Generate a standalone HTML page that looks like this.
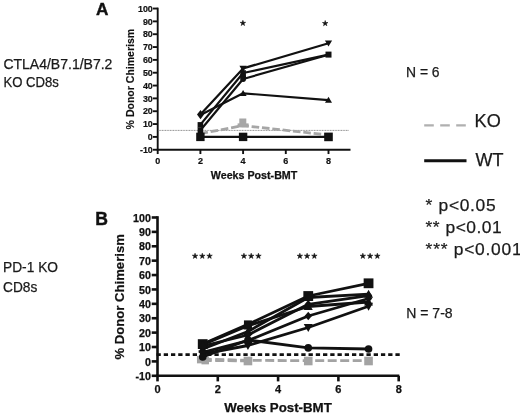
<!DOCTYPE html>
<html><head><meta charset="utf-8"><title>Donor chimerism</title>
<style>
html,body{margin:0;padding:0;background:#fff;width:520px;height:417px;overflow:hidden}
svg{display:block;filter:blur(0.35px)}
text{font-family:"Liberation Sans", sans-serif}
</style></head><body>
<svg width="520" height="417" viewBox="0 0 520 417">
<rect width="520" height="417" fill="#fff"/>
<text x="3.4" y="68.6" font-size="14.2" fill="#1a1a1a" stroke="#1a1a1a" stroke-width="0.25" textLength="109" lengthAdjust="spacingAndGlyphs">CTLA4/B7.1/B7.2</text>
<text x="3.4" y="87.2" font-size="14.2" fill="#1a1a1a" stroke="#1a1a1a" stroke-width="0.25" textLength="55.5" lengthAdjust="spacingAndGlyphs">KO CD8s</text>
<text x="3.0" y="272.2" font-size="14.2" fill="#1a1a1a" stroke="#1a1a1a" stroke-width="0.25" textLength="55" lengthAdjust="spacingAndGlyphs">PD-1 KO</text>
<text x="3.0" y="291.8" font-size="14.2" fill="#1a1a1a" stroke="#1a1a1a" stroke-width="0.25" textLength="34.3" lengthAdjust="spacingAndGlyphs">CD8s</text>
<text x="96.0" y="15.0" font-size="17.2" font-weight="bold" fill="#111" stroke="#111" stroke-width="0.4">A</text>
<text x="95.2" y="224.7" font-size="17.6" font-weight="bold" fill="#111" stroke="#111" stroke-width="0.4">B</text>
<line x1="157.7" y1="7.64" x2="157.7" y2="154.04" stroke="#111" stroke-width="1.9"/>
<line x1="156.8" y1="149.74" x2="350.5" y2="149.74" stroke="#111" stroke-width="1.9"/>
<line x1="152.9" y1="149.74" x2="157.7" y2="149.74" stroke="#111" stroke-width="1.9"/>
<text x="152.80" y="152.94" font-size="8.9" font-weight="bold" text-anchor="end" fill="#111" stroke="#111" stroke-width="0.2">-10</text>
<line x1="152.9" y1="136.90" x2="157.7" y2="136.90" stroke="#111" stroke-width="1.9"/>
<text x="152.80" y="140.10" font-size="8.9" font-weight="bold" text-anchor="end" fill="#111" stroke="#111" stroke-width="0.2">0</text>
<line x1="152.9" y1="124.06" x2="157.7" y2="124.06" stroke="#111" stroke-width="1.9"/>
<text x="152.80" y="127.26" font-size="8.9" font-weight="bold" text-anchor="end" fill="#111" stroke="#111" stroke-width="0.2">10</text>
<line x1="152.9" y1="111.23" x2="157.7" y2="111.23" stroke="#111" stroke-width="1.9"/>
<text x="152.80" y="114.43" font-size="8.9" font-weight="bold" text-anchor="end" fill="#111" stroke="#111" stroke-width="0.2">20</text>
<line x1="152.9" y1="98.39" x2="157.7" y2="98.39" stroke="#111" stroke-width="1.9"/>
<text x="152.80" y="101.59" font-size="8.9" font-weight="bold" text-anchor="end" fill="#111" stroke="#111" stroke-width="0.2">30</text>
<line x1="152.9" y1="85.56" x2="157.7" y2="85.56" stroke="#111" stroke-width="1.9"/>
<text x="152.80" y="88.76" font-size="8.9" font-weight="bold" text-anchor="end" fill="#111" stroke="#111" stroke-width="0.2">40</text>
<line x1="152.9" y1="72.72" x2="157.7" y2="72.72" stroke="#111" stroke-width="1.9"/>
<text x="152.80" y="75.92" font-size="8.9" font-weight="bold" text-anchor="end" fill="#111" stroke="#111" stroke-width="0.2">50</text>
<line x1="152.9" y1="59.88" x2="157.7" y2="59.88" stroke="#111" stroke-width="1.9"/>
<text x="152.80" y="63.08" font-size="8.9" font-weight="bold" text-anchor="end" fill="#111" stroke="#111" stroke-width="0.2">60</text>
<line x1="152.9" y1="47.05" x2="157.7" y2="47.05" stroke="#111" stroke-width="1.9"/>
<text x="152.80" y="50.25" font-size="8.9" font-weight="bold" text-anchor="end" fill="#111" stroke="#111" stroke-width="0.2">70</text>
<line x1="152.9" y1="34.21" x2="157.7" y2="34.21" stroke="#111" stroke-width="1.9"/>
<text x="152.80" y="37.41" font-size="8.9" font-weight="bold" text-anchor="end" fill="#111" stroke="#111" stroke-width="0.2">80</text>
<line x1="152.9" y1="21.38" x2="157.7" y2="21.38" stroke="#111" stroke-width="1.9"/>
<text x="152.80" y="24.58" font-size="8.9" font-weight="bold" text-anchor="end" fill="#111" stroke="#111" stroke-width="0.2">90</text>
<line x1="152.9" y1="8.54" x2="157.7" y2="8.54" stroke="#111" stroke-width="1.9"/>
<text x="152.80" y="11.74" font-size="8.9" font-weight="bold" text-anchor="end" fill="#111" stroke="#111" stroke-width="0.2">100</text>
<line x1="200.40" y1="149.74" x2="200.40" y2="154.04" stroke="#111" stroke-width="1.9"/>
<line x1="243.10" y1="149.74" x2="243.10" y2="154.04" stroke="#111" stroke-width="1.9"/>
<line x1="285.80" y1="149.74" x2="285.80" y2="154.04" stroke="#111" stroke-width="1.9"/>
<line x1="328.50" y1="149.74" x2="328.50" y2="154.04" stroke="#111" stroke-width="1.9"/>
<text x="157.70" y="163.7" font-size="9" font-weight="bold" text-anchor="middle" fill="#111" stroke="#111" stroke-width="0.2">0</text>
<text x="200.40" y="163.7" font-size="9" font-weight="bold" text-anchor="middle" fill="#111" stroke="#111" stroke-width="0.2">2</text>
<text x="243.10" y="163.7" font-size="9" font-weight="bold" text-anchor="middle" fill="#111" stroke="#111" stroke-width="0.2">4</text>
<text x="285.80" y="163.7" font-size="9" font-weight="bold" text-anchor="middle" fill="#111" stroke="#111" stroke-width="0.2">6</text>
<text x="328.50" y="163.7" font-size="9" font-weight="bold" text-anchor="middle" fill="#111" stroke="#111" stroke-width="0.2">8</text>
<text x="210.8" y="179.0" font-size="10.7" font-weight="bold" fill="#111" stroke="#111" stroke-width="0.25">Weeks Post-BMT</text>
<text transform="translate(133.9,129.4) rotate(-90)" font-size="10.6" font-weight="bold" fill="#111" stroke="#111" stroke-width="0.15" textLength="100.6" lengthAdjust="spacingAndGlyphs">% Donor Chimerism</text>
<line x1="158.7" y1="130.4" x2="348.5" y2="130.4" stroke="#8a8a8a" stroke-width="1" stroke-dasharray="1 0.6"/>
<polygon points="242.90,20.30 243.55,22.31 245.66,22.30 243.95,23.54 244.60,25.55 242.90,24.30 241.20,25.55 241.85,23.54 240.14,22.30 242.25,22.31" fill="#111" stroke="#111" stroke-width="0.55" stroke-linejoin="round"/>
<polygon points="325.20,20.50 325.85,22.51 327.96,22.50 326.25,23.74 326.90,25.75 325.20,24.50 323.50,25.75 324.15,23.74 322.44,22.50 324.55,22.51" fill="#111" stroke="#111" stroke-width="0.55" stroke-linejoin="round"/>
<polyline points="200.40,133.60 243.10,125.60 328.50,135.00" fill="none" stroke="#a6a6a6" stroke-width="2.8" stroke-linejoin="round" stroke-dasharray="7.6 2.8"/>
<rect x="239.30" y="118.50" width="7.0" height="7.0" fill="#a6a6a6"/>
<rect x="237.60" y="123.4" width="11" height="4" fill="#a6a6a6"/>
<polyline points="200.40,114.60 243.10,68.40 328.50,43.20" fill="none" stroke="#111" stroke-width="2.2" stroke-linejoin="round"/>
<polyline points="200.40,124.60 243.10,73.00 328.50,54.60" fill="none" stroke="#111" stroke-width="2.2" stroke-linejoin="round"/>
<polyline points="200.40,130.20 243.10,79.00 328.50,54.80" fill="none" stroke="#111" stroke-width="2.2" stroke-linejoin="round"/>
<polyline points="200.40,115.00 243.10,93.30 328.50,100.10" fill="none" stroke="#111" stroke-width="2.2" stroke-linejoin="round"/>
<polyline points="200.40,136.90 243.10,136.90 328.50,136.90" fill="none" stroke="#111" stroke-width="2.4" stroke-linejoin="round"/>
<polygon points="200.5,109.9 204.0,114.6 200.5,119.3 197.0,114.6" fill="#111"/>
<rect x="197.60" y="122.10" width="5.6" height="5.6" fill="#111"/>
<rect x="197.60" y="127.50" width="5.6" height="5.6" fill="#111"/>
<rect x="196.20" y="132.70" width="8.4" height="8.4" fill="#111"/>
<rect x="238.90" y="132.70" width="8.4" height="8.4" fill="#111"/>
<rect x="324.20" y="132.60" width="8.6" height="8.6" fill="#111"/>
<polygon points="243.10,72.12 246.80,65.72 239.40,65.72" fill="#111"/>
<rect x="240.30" y="70.20" width="5.6" height="5.6" fill="#111"/>
<circle cx="243.10" cy="76.50" r="2.90" fill="#111"/>
<circle cx="243.10" cy="79.00" r="2.90" fill="#111"/>
<polygon points="243.10,90.00 246.60,96.00 239.60,96.00" fill="#111"/>
<polygon points="328.50,46.61 332.10,40.41 324.90,40.41" fill="#111"/>
<rect x="325.50" y="51.60" width="6" height="6" fill="#111"/>
<polygon points="328.50,96.80 332.00,102.80 325.00,102.80" fill="#111"/>
<line x1="157.5" y1="216.19" x2="157.5" y2="381.39" stroke="#111" stroke-width="2.6"/>
<line x1="156.2" y1="375.79" x2="399.3" y2="375.79" stroke="#111" stroke-width="2.6"/>
<line x1="151.7" y1="375.79" x2="157.5" y2="375.79" stroke="#111" stroke-width="2.6"/>
<text x="150.90" y="379.89" font-size="10.7" font-weight="bold" text-anchor="end" fill="#111" stroke="#111" stroke-width="0.25">-10</text>
<line x1="151.7" y1="361.40" x2="157.5" y2="361.40" stroke="#111" stroke-width="2.6"/>
<text x="150.90" y="365.50" font-size="10.7" font-weight="bold" text-anchor="end" fill="#111" stroke="#111" stroke-width="0.25">0</text>
<line x1="151.7" y1="347.01" x2="157.5" y2="347.01" stroke="#111" stroke-width="2.6"/>
<text x="150.90" y="351.11" font-size="10.7" font-weight="bold" text-anchor="end" fill="#111" stroke="#111" stroke-width="0.25">10</text>
<line x1="151.7" y1="332.62" x2="157.5" y2="332.62" stroke="#111" stroke-width="2.6"/>
<text x="150.90" y="336.72" font-size="10.7" font-weight="bold" text-anchor="end" fill="#111" stroke="#111" stroke-width="0.25">20</text>
<line x1="151.7" y1="318.23" x2="157.5" y2="318.23" stroke="#111" stroke-width="2.6"/>
<text x="150.90" y="322.33" font-size="10.7" font-weight="bold" text-anchor="end" fill="#111" stroke="#111" stroke-width="0.25">30</text>
<line x1="151.7" y1="303.84" x2="157.5" y2="303.84" stroke="#111" stroke-width="2.6"/>
<text x="150.90" y="307.94" font-size="10.7" font-weight="bold" text-anchor="end" fill="#111" stroke="#111" stroke-width="0.25">40</text>
<line x1="151.7" y1="289.44" x2="157.5" y2="289.44" stroke="#111" stroke-width="2.6"/>
<text x="150.90" y="293.55" font-size="10.7" font-weight="bold" text-anchor="end" fill="#111" stroke="#111" stroke-width="0.25">50</text>
<line x1="151.7" y1="275.05" x2="157.5" y2="275.05" stroke="#111" stroke-width="2.6"/>
<text x="150.90" y="279.15" font-size="10.7" font-weight="bold" text-anchor="end" fill="#111" stroke="#111" stroke-width="0.25">60</text>
<line x1="151.7" y1="260.66" x2="157.5" y2="260.66" stroke="#111" stroke-width="2.6"/>
<text x="150.90" y="264.76" font-size="10.7" font-weight="bold" text-anchor="end" fill="#111" stroke="#111" stroke-width="0.25">70</text>
<line x1="151.7" y1="246.27" x2="157.5" y2="246.27" stroke="#111" stroke-width="2.6"/>
<text x="150.90" y="250.37" font-size="10.7" font-weight="bold" text-anchor="end" fill="#111" stroke="#111" stroke-width="0.25">80</text>
<line x1="151.7" y1="231.88" x2="157.5" y2="231.88" stroke="#111" stroke-width="2.6"/>
<text x="150.90" y="235.98" font-size="10.7" font-weight="bold" text-anchor="end" fill="#111" stroke="#111" stroke-width="0.25">90</text>
<line x1="151.7" y1="217.49" x2="157.5" y2="217.49" stroke="#111" stroke-width="2.6"/>
<text x="150.90" y="221.59" font-size="10.7" font-weight="bold" text-anchor="end" fill="#111" stroke="#111" stroke-width="0.25">100</text>
<line x1="217.80" y1="375.79" x2="217.80" y2="381.39" stroke="#111" stroke-width="2.6"/>
<line x1="278.10" y1="375.79" x2="278.10" y2="381.39" stroke="#111" stroke-width="2.6"/>
<line x1="338.40" y1="375.79" x2="338.40" y2="381.39" stroke="#111" stroke-width="2.6"/>
<line x1="398.70" y1="375.79" x2="398.70" y2="381.39" stroke="#111" stroke-width="2.6"/>
<text x="157.50" y="393.2" font-size="11" font-weight="bold" text-anchor="middle" fill="#111" stroke="#111" stroke-width="0.25">0</text>
<text x="217.80" y="393.2" font-size="11" font-weight="bold" text-anchor="middle" fill="#111" stroke="#111" stroke-width="0.25">2</text>
<text x="278.10" y="393.2" font-size="11" font-weight="bold" text-anchor="middle" fill="#111" stroke="#111" stroke-width="0.25">4</text>
<text x="338.40" y="393.2" font-size="11" font-weight="bold" text-anchor="middle" fill="#111" stroke="#111" stroke-width="0.25">6</text>
<text x="398.70" y="393.2" font-size="11" font-weight="bold" text-anchor="middle" fill="#111" stroke="#111" stroke-width="0.25">8</text>
<text x="224.2" y="411.6" font-size="13.3" font-weight="bold" fill="#111" stroke="#111" stroke-width="0.25">Weeks Post-BMT</text>
<text transform="translate(124.0,359.6) rotate(-90)" font-size="13.1" font-weight="bold" fill="#111" stroke="#111" stroke-width="0.2" textLength="125.5" lengthAdjust="spacingAndGlyphs">% Donor Chimerism</text>
<polygon points="195.05,253.20 195.70,255.21 197.81,255.20 196.10,256.44 196.75,258.45 195.05,257.20 193.35,258.45 194.00,256.44 192.29,255.20 194.40,255.21" fill="#111" stroke="#111" stroke-width="0.55" stroke-linejoin="round"/>
<polygon points="202.30,253.20 202.95,255.21 205.06,255.20 203.35,256.44 204.00,258.45 202.30,257.20 200.60,258.45 201.25,256.44 199.54,255.20 201.65,255.21" fill="#111" stroke="#111" stroke-width="0.55" stroke-linejoin="round"/>
<polygon points="209.55,253.20 210.20,255.21 212.31,255.20 210.60,256.44 211.25,258.45 209.55,257.20 207.85,258.45 208.50,256.44 206.79,255.20 208.90,255.21" fill="#111" stroke="#111" stroke-width="0.55" stroke-linejoin="round"/>
<polygon points="243.95,253.20 244.60,255.21 246.71,255.20 245.00,256.44 245.65,258.45 243.95,257.20 242.25,258.45 242.90,256.44 241.19,255.20 243.30,255.21" fill="#111" stroke="#111" stroke-width="0.55" stroke-linejoin="round"/>
<polygon points="251.20,253.20 251.85,255.21 253.96,255.20 252.25,256.44 252.90,258.45 251.20,257.20 249.50,258.45 250.15,256.44 248.44,255.20 250.55,255.21" fill="#111" stroke="#111" stroke-width="0.55" stroke-linejoin="round"/>
<polygon points="258.45,253.20 259.10,255.21 261.21,255.20 259.50,256.44 260.15,258.45 258.45,257.20 256.75,258.45 257.40,256.44 255.69,255.20 257.80,255.21" fill="#111" stroke="#111" stroke-width="0.55" stroke-linejoin="round"/>
<polygon points="299.85,253.20 300.50,255.21 302.61,255.20 300.90,256.44 301.55,258.45 299.85,257.20 298.15,258.45 298.80,256.44 297.09,255.20 299.20,255.21" fill="#111" stroke="#111" stroke-width="0.55" stroke-linejoin="round"/>
<polygon points="307.10,253.20 307.75,255.21 309.86,255.20 308.15,256.44 308.80,258.45 307.10,257.20 305.40,258.45 306.05,256.44 304.34,255.20 306.45,255.21" fill="#111" stroke="#111" stroke-width="0.55" stroke-linejoin="round"/>
<polygon points="314.35,253.20 315.00,255.21 317.11,255.20 315.40,256.44 316.05,258.45 314.35,257.20 312.65,258.45 313.30,256.44 311.59,255.20 313.70,255.21" fill="#111" stroke="#111" stroke-width="0.55" stroke-linejoin="round"/>
<polygon points="362.85,253.20 363.50,255.21 365.61,255.20 363.90,256.44 364.55,258.45 362.85,257.20 361.15,258.45 361.80,256.44 360.09,255.20 362.20,255.21" fill="#111" stroke="#111" stroke-width="0.55" stroke-linejoin="round"/>
<polygon points="370.10,253.20 370.75,255.21 372.86,255.20 371.15,256.44 371.80,258.45 370.10,257.20 368.40,258.45 369.05,256.44 367.34,255.20 369.45,255.21" fill="#111" stroke="#111" stroke-width="0.55" stroke-linejoin="round"/>
<polygon points="377.35,253.20 378.00,255.21 380.11,255.20 378.40,256.44 379.05,258.45 377.35,257.20 375.65,258.45 376.30,256.44 374.59,255.20 376.70,255.21" fill="#111" stroke="#111" stroke-width="0.55" stroke-linejoin="round"/>
<polyline points="202.72,359.00 247.95,360.40 308.25,360.60 368.55,360.60" fill="none" stroke="#a3a3a3" stroke-width="2.8" stroke-linejoin="round" stroke-dasharray="9 3.5"/>
<polyline points="202.72,360.50 247.95,360.90" fill="none" stroke="#a3a3a3" stroke-width="2.8" stroke-linejoin="round" stroke-dasharray="9 3.5"/>
<rect x="196.97" y="355.85" width="7.5" height="7.5" fill="#a3a3a3"/>
<rect x="201.47" y="356.85" width="7.5" height="7.5" fill="#a3a3a3"/>
<rect x="243.65" y="356.70" width="8.6" height="8.6" fill="#a3a3a3"/>
<rect x="303.95" y="356.70" width="8.6" height="8.6" fill="#a3a3a3"/>
<rect x="364.25" y="356.70" width="8.6" height="8.6" fill="#a3a3a3"/>
<line x1="156.5" y1="354.6" x2="399.9" y2="354.6" stroke="#111" stroke-width="2.7" stroke-dasharray="4.3 2.94"/>
<polyline points="202.72,344.10 247.95,324.40 308.25,296.00 368.55,283.30" fill="none" stroke="#111" stroke-width="2.8" stroke-linejoin="round"/>
<polyline points="202.72,349.00 247.95,331.50 308.25,297.50 368.55,294.20" fill="none" stroke="#111" stroke-width="2.8" stroke-linejoin="round"/>
<polyline points="202.72,346.00 247.95,335.00 308.25,304.30 368.55,295.60" fill="none" stroke="#111" stroke-width="2.8" stroke-linejoin="round"/>
<polyline points="202.72,352.30 247.95,340.60 308.25,316.00 368.55,298.50" fill="none" stroke="#111" stroke-width="2.8" stroke-linejoin="round"/>
<polyline points="202.72,344.60 247.95,325.80 308.25,306.50 368.55,302.00" fill="none" stroke="#111" stroke-width="2.8" stroke-linejoin="round"/>
<polyline points="202.72,354.00 247.95,345.50 308.25,327.50 368.55,306.30" fill="none" stroke="#111" stroke-width="2.8" stroke-linejoin="round"/>
<polyline points="202.72,357.00 247.95,340.00 308.25,347.90 368.55,349.00" fill="none" stroke="#111" stroke-width="2.8" stroke-linejoin="round"/>
<rect x="197.82" y="339.20" width="9.8" height="9.8" fill="#111"/>
<rect x="243.95" y="320.40" width="8.0" height="8.0" fill="#111"/>
<rect x="303.35" y="291.10" width="9.8" height="9.8" fill="#111"/>
<rect x="363.65" y="278.40" width="9.8" height="9.8" fill="#111"/>
<polygon points="202.72,344.60 207.22,352.60 198.22,352.60" fill="#111"/>
<polygon points="247.95,327.10 252.45,335.10 243.45,335.10" fill="#111"/>
<polygon points="308.25,293.10 312.75,301.10 303.75,301.10" fill="#111"/>
<polygon points="368.55,289.80 373.05,297.80 364.05,297.80" fill="#111"/>
<polygon points="202.72,341.68 206.40,346.00 202.72,350.32 199.05,346.00" fill="#111"/>
<polygon points="247.95,330.68 251.62,335.00 247.95,339.32 244.28,335.00" fill="#111"/>
<polygon points="308.25,299.98 311.92,304.30 308.25,308.62 304.58,304.30" fill="#111"/>
<polygon points="368.55,291.28 372.22,295.60 368.55,299.92 364.88,295.60" fill="#111"/>
<polygon points="202.72,347.98 206.40,352.30 202.72,356.62 199.05,352.30" fill="#111"/>
<polygon points="247.95,336.28 251.62,340.60 247.95,344.92 244.28,340.60" fill="#111"/>
<polygon points="308.25,311.68 311.92,316.00 308.25,320.32 304.58,316.00" fill="#111"/>
<polygon points="368.55,294.18 372.22,298.50 368.55,302.82 364.88,298.50" fill="#111"/>
<polygon points="202.72,340.20 207.22,348.20 198.22,348.20" fill="#111"/>
<polygon points="247.95,321.40 252.45,329.40 243.45,329.40" fill="#111"/>
<polygon points="308.25,302.10 312.75,310.10 303.75,310.10" fill="#111"/>
<polygon points="368.55,297.60 373.05,305.60 364.05,305.60" fill="#111"/>
<polygon points="202.72,358.40 207.22,350.40 198.22,350.40" fill="#111"/>
<polygon points="247.95,349.90 252.45,341.90 243.45,341.90" fill="#111"/>
<polygon points="308.25,331.90 312.75,323.90 303.75,323.90" fill="#111"/>
<polygon points="368.55,310.70 373.05,302.70 364.05,302.70" fill="#111"/>
<circle cx="202.72" cy="357.00" r="3.80" fill="#111"/>
<circle cx="247.95" cy="340.00" r="3.80" fill="#111"/>
<circle cx="308.25" cy="347.90" r="3.80" fill="#111"/>
<circle cx="368.55" cy="349.00" r="3.80" fill="#111"/>
<text x="406.0" y="77.3" font-size="13.9" fill="#1a1a1a" stroke="#1a1a1a" stroke-width="0.25">N = 6</text>
<line x1="424.2" y1="125.3" x2="466.5" y2="125.3" stroke="#b0b0b0" stroke-width="2.2" stroke-dasharray="9.6 6.4"/>
<text x="474.6" y="127.3" font-size="18.1" fill="#1a1a1a" stroke="#1a1a1a" stroke-width="0.25">KO</text>
<line x1="424.2" y1="160.8" x2="466.5" y2="160.8" stroke="#111" stroke-width="3"/>
<text x="475.5" y="165.8" font-size="18" fill="#1a1a1a" stroke="#1a1a1a" stroke-width="0.25">WT</text>
<text x="425.6" y="210.8" font-size="17.4" fill="#1a1a1a" stroke="#1a1a1a" stroke-width="0.25" textLength="70" lengthAdjust="spacing">* p&lt;0.05</text>
<text x="425.6" y="233" font-size="17.4" fill="#1a1a1a" stroke="#1a1a1a" stroke-width="0.25" textLength="76" lengthAdjust="spacing">** p&lt;0.01</text>
<text x="425.6" y="255.2" font-size="17.4" fill="#1a1a1a" stroke="#1a1a1a" stroke-width="0.25" textLength="96" lengthAdjust="spacing">*** p&lt;0.001</text>
<text x="406.3" y="318.2" font-size="14" fill="#1a1a1a" stroke="#1a1a1a" stroke-width="0.25">N = 7-8</text>
</svg></body></html>
